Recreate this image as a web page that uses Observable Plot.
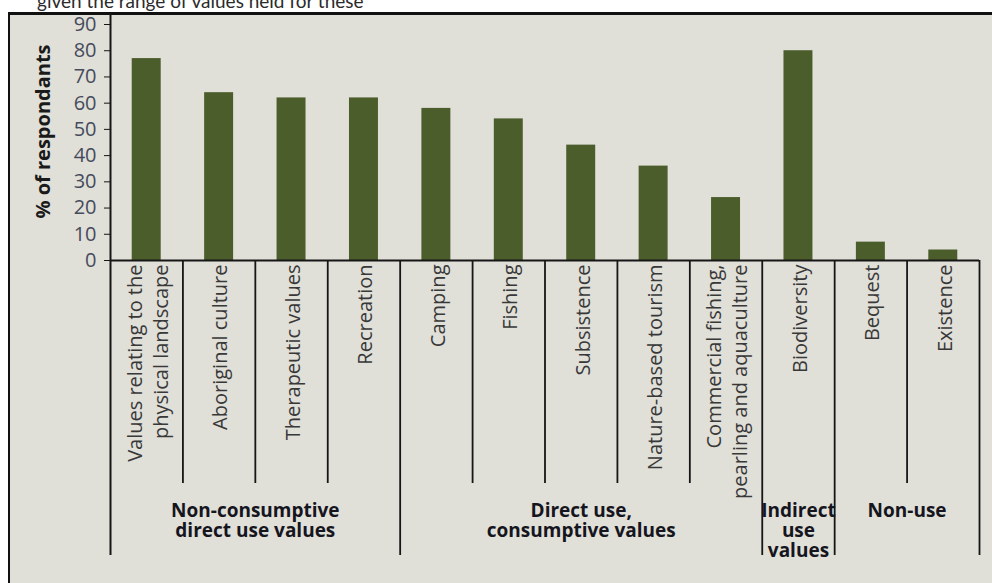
<!DOCTYPE html>
<html><head><meta charset="utf-8">
<script src="https://cdn.jsdelivr.net/npm/d3@7"></script>
<script src="https://cdn.jsdelivr.net/npm/@observablehq/plot@0.6"></script>
<style>
html,body{margin:0;padding:0;background:#fff;width:992px;height:583px;overflow:hidden;}
#title{position:absolute;left:37px;top:-9px;font:19px/19px Lato, sans-serif;color:#2b2b2b;white-space:nowrap;}
#frame{position:absolute;left:8px;top:12px;width:1000px;height:600px;border-top:3px solid #111;border-left:2px solid #111;background:#e0dfd8;}
#chart{position:absolute;left:0;top:0;}
</style></head><body>
<div id="title">given the range of values held for these</div>
<div id="frame"></div>
<div id="chart"></div>
<script>
const categories = [
  "Values relating to the\nphysical landscape",
  "Aboriginal culture",
  "Therapeutic values",
  "Recreation",
  "Camping",
  "Fishing",
  "Subsistence",
  "Nature-based tourism",
  "Commercial fishing,\npearling and aquaculture",
  "Biodiversity",
  "Bequest",
  "Existence"
];
const values = [77, 64, 62, 62, 58, 54, 44, 36, 24, 80, 7, 4];
const groupNames = [
  "Non-consumptive\ndirect use values",
  "Direct use,\nconsumptive values",
  "Indirect\nuse\nvalues",
  "Non-use"
];
const groupSizes = [4, 5, 1, 2];
const yTicks = [0, 10, 20, 30, 40, 50, 60, 70, 80, 90];
const yLabel = "% of respondants";

const data = categories.map((c, i) => ({c, v: values[i], i}));
const ends = Array.from(d3.cumsum(groupSizes));
const starts = [0, ...ends.slice(0, -1)];
const groups = groupNames.map((name, k) => ({name, start: starts[k], end: ends[k]}));
const edgeSet = new Set([0, ...ends]);
const boundaries = d3.range(categories.length + 1);
const innerBounds = boundaries.filter(b => !edgeSet.has(b));
const groupBounds = boundaries.filter(b => edgeSet.has(b) && b !== 0);

const barColor = "#4a5d2a";
const lineColor = "#161616";

const chart = Plot.plot({
  width: 992,
  height: 583,
  marginLeft: 110,
  marginRight: 13,
  marginTop: 24,
  marginBottom: 323,
  style: {background: "transparent", fontFamily: "'Open Sans', sans-serif", overflow: "visible"},
  x: {type: "linear", domain: [0, categories.length], axis: null},
  y: {domain: [0, 90], axis: null},
  marks: [
    Plot.rectY(data, {x1: d => d.i + 0.3, x2: d => d.i + 0.7, y1: 0, y2: "v", fill: barColor}),
    Plot.ruleY([0], {stroke: lineColor, strokeWidth: 2}),
    Plot.ruleX([0], {stroke: lineColor, strokeWidth: 2, insetTop: -11, insetBottom: -295}),
    Plot.ruleX(innerBounds, {stroke: lineColor, strokeWidth: 1.8, insetTop: 236, insetBottom: -223}),
    Plot.ruleX(groupBounds, {stroke: lineColor, strokeWidth: 1.8, insetTop: 236, insetBottom: -295}),
    Plot.axisY({ticks: yTicks, tickSize: 6, tickPadding: 8, fontSize: 20, stroke: lineColor, fill: "#454b5c", label: null, anchor: "left"}),
    Plot.text([yLabel], {frameAnchor: "left", text: d => d, rotate: -90, textAnchor: "middle", dx: -67, dy: -11, fontSize: 20, fontWeight: "bold", fill: "#1a1a1a"}),
    Plot.text(data, {x: d => d.i + 0.5, text: "c", frameAnchor: "bottom", rotate: -90, textAnchor: "end", lineAnchor: "middle", lineHeight: 1.3, dy: 4, fontSize: 20, fill: "#383838"}),
    Plot.text(groups, {x: d => (d.start + d.end) / 2, text: "name", frameAnchor: "bottom", lineAnchor: "top", lineHeight: 1.03, dy: 243, fontSize: 19, fontWeight: "bold", fill: "#151520"})
  ]
});
document.getElementById("chart").append(chart);
</script>
</body></html>
